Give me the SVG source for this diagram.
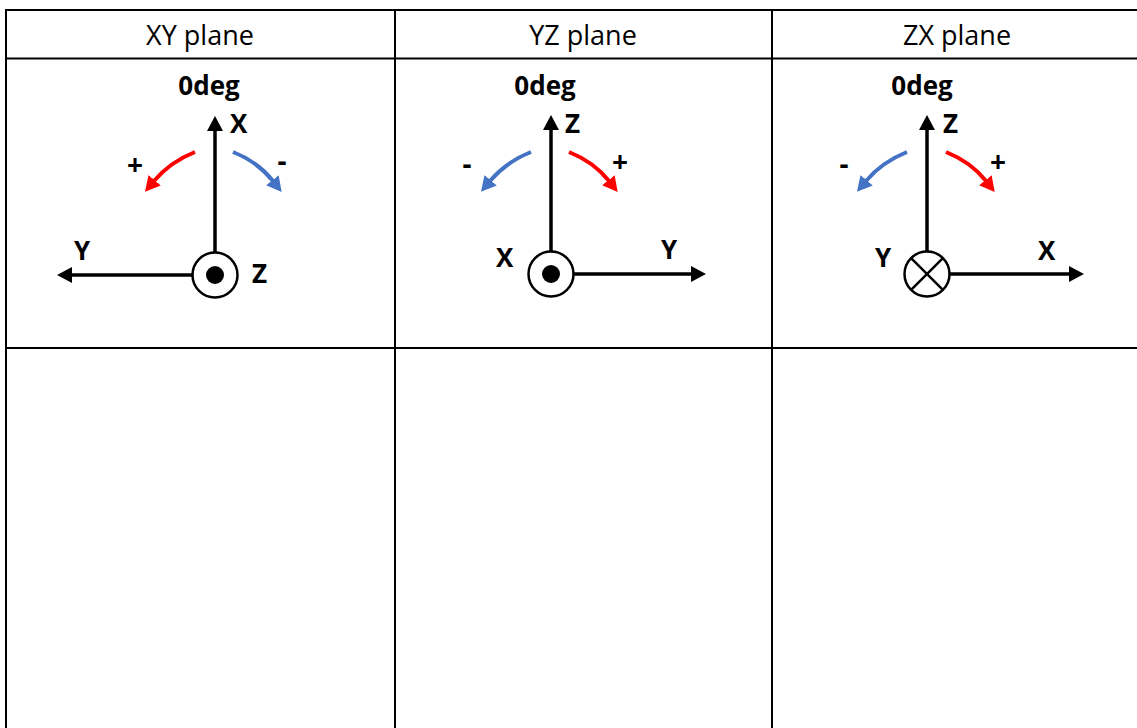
<svg xmlns="http://www.w3.org/2000/svg" width="1137" height="728" viewBox="0 0 1137 728">
<defs>
<style>
.grid{stroke:#000;stroke-width:2;fill:none}
.hdr{font-family:"Open Sans","Liberation Sans",sans-serif;font-size:27px;fill:#000;text-anchor:middle}
.deg{font-family:"Open Sans","Liberation Sans",sans-serif;font-size:26px;font-weight:bold;fill:#000;text-anchor:middle}
.lbl{font-family:"Open Sans","Liberation Sans",sans-serif;font-size:26px;font-weight:bold;fill:#000}
.sign{font-family:"Open Sans","Liberation Sans",sans-serif;font-size:28px;font-weight:bold;fill:#000;text-anchor:middle}
.axis{stroke:#000;stroke-width:3.5;fill:none}
.ring{stroke:#000;stroke-width:2.5;fill:#fff}
.red{stroke:#FF0000;stroke-width:4;fill:none}
.blue{stroke:#4472C4;stroke-width:4;fill:none}
</style>
<marker id="ak" viewBox="0 -8 15 16" refX="1" refY="0" markerWidth="15" markerHeight="16" markerUnits="userSpaceOnUse" orient="auto"><path d="M0,-8 L15,0 L0,8 z" fill="#000"/></marker>
<marker id="ar" viewBox="0 -8 15 16" refX="1" refY="0" markerWidth="15" markerHeight="16" markerUnits="userSpaceOnUse" orient="auto"><path d="M0,-8 L15,0 L0,8 z" fill="#FF0000"/></marker>
<marker id="ab" viewBox="0 -8 15 16" refX="1" refY="0" markerWidth="15" markerHeight="16" markerUnits="userSpaceOnUse" orient="auto"><path d="M0,-8 L15,0 L0,8 z" fill="#4472C4"/></marker>
</defs>
<rect width="1137" height="728" fill="#fff"/>
<g id="table">
<line class="grid" x1="5" y1="10" x2="1137" y2="10"/>
<line class="grid" x1="6" y1="58.5" x2="1137" y2="58.5" stroke-width="1.5"/>
<line class="grid" x1="6" y1="348" x2="1137" y2="348"/>
<line class="grid" x1="6" y1="9" x2="6" y2="728"/>
<line class="grid" x1="395" y1="9" x2="395" y2="728"/>
<line class="grid" x1="772" y1="9" x2="772" y2="728"/>
<text class="hdr" x="200" y="45">XY plane</text>
<text class="hdr" x="583" y="45">YZ plane</text>
<text class="hdr" x="957" y="45">ZX plane</text>
</g>
<g id="xy-plane">
<text class="deg" x="209" y="95">0deg</text>
<g class="connectors">
<line class="axis" x1="215" y1="253" x2="215" y2="130" marker-end="url(#ak)"/>
<line class="axis" x1="193" y1="275" x2="71" y2="275" marker-end="url(#ak)"/>
<g transform="translate(215,0)">
<path class="red" d="M-20,152 Q-45,162 -61,181" marker-end="url(#ar)"/>
<path class="blue" d="M18,152 Q43,162 58,181" marker-end="url(#ab)"/>
</g>
</g>
<circle class="ring" cx="215" cy="275" r="22.5"/>
<circle cx="215" cy="275" r="9" fill="#000"/>
<text class="lbl" x="230" y="133">X</text>
<text class="lbl" x="74" y="260">Y</text>
<text class="lbl" x="252" y="283">Z</text>
<text class="sign" x="135" y="175">+</text>
<text class="sign" x="282" y="171">-</text>
</g>
<g id="yz-plane">
<text class="deg" x="545" y="95">0deg</text>
<g class="connectors">
<line class="axis" x1="551" y1="252" x2="551" y2="129" marker-end="url(#ak)"/>
<line class="axis" x1="573" y1="274" x2="692" y2="274" marker-end="url(#ak)"/>
<g transform="translate(551,0)">
<path class="blue" d="M-20,152 Q-45,162 -61,181" marker-end="url(#ab)"/>
<path class="red" d="M18,152 Q43,162 58,181" marker-end="url(#ar)"/>
</g>
</g>
<circle class="ring" cx="551" cy="274" r="22.5"/>
<circle cx="551" cy="274" r="9" fill="#000"/>
<text class="lbl" x="565" y="133">Z</text>
<text class="lbl" x="661" y="259">Y</text>
<text class="lbl" x="496" y="267">X</text>
<text class="sign" x="467" y="174">-</text>
<text class="sign" x="620" y="172">+</text>
</g>
<g id="zx-plane">
<text class="deg" x="922" y="95">0deg</text>
<g class="connectors">
<line class="axis" x1="927" y1="252" x2="927" y2="129" marker-end="url(#ak)"/>
<line class="axis" x1="949" y1="274" x2="1070" y2="274" marker-end="url(#ak)"/>
<g transform="translate(927,0)">
<path class="blue" d="M-20,152 Q-45,162 -61,181" marker-end="url(#ab)"/>
<path class="red" d="M19,152 Q44,162 59,181" marker-end="url(#ar)"/>
</g>
</g>
<circle class="ring" cx="927" cy="274" r="22.5"/>
<line stroke="#000" stroke-width="2.5" x1="911.1" y1="258.1" x2="942.9" y2="289.9"/>
<line stroke="#000" stroke-width="2.5" x1="942.9" y1="258.1" x2="911.1" y2="289.9"/>
<text class="lbl" x="943" y="133">Z</text>
<text class="lbl" x="1038" y="260">X</text>
<text class="lbl" x="875" y="267">Y</text>
<text class="sign" x="844" y="174">-</text>
<text class="sign" x="998" y="172">+</text>
</g>
</svg>
